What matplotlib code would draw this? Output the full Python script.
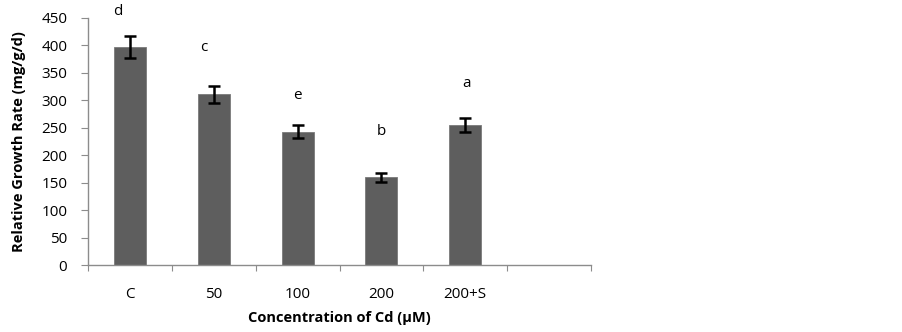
import matplotlib.pyplot as plt
import numpy as np

categories = ["C", "50", "100", "200", "200+S"]
growth_rate = [398, 311, 243, 160, 255]
errors = [20, 16, 12, 8, 13]
letters = ["d", "c", "e", "b", "a"]
letter_y = [461, 397, 308, 244, 330]
letter_shift = [-0.14, -0.12, 0.0, 0.0, 0.01]

plt.rcParams["font.family"] = ["Open Sans", "DejaVu Sans"]

fig = plt.figure(figsize=(9.02, 3.32), dpi=100)
ax = fig.add_axes([0.0976, 0.2018, 0.5576, 0.744])

x = np.arange(len(categories))
ax.bar(x, growth_rate, width=0.38, color="#5e5e5e", edgecolor="#7a7a7a", linewidth=0.6, zorder=2)
ax.errorbar(x, growth_rate, yerr=errors, fmt="none", ecolor="black", elinewidth=1.8,
            capsize=4, capthick=1.8, zorder=3)

for xi, lab, ly, dx in zip(x, letters, letter_y, letter_shift):
    ax.text(xi + dx, ly, lab, ha="center", va="center", fontsize=11, clip_on=False)

ax.set_xlim(-0.5, 5.5)
ax.set_ylim(0, 450)
ax.set_yticks(np.arange(0, 451, 50))
ax.set_xticks(np.arange(-0.5, 6, 1))
ax.set_xticklabels([])
ax.set_xticks(x, minor=True)
ax.set_xticklabels(categories, minor=True)
ax.tick_params(axis="x", which="major", length=4, color="#8c8c8c", direction="out")
ax.tick_params(axis="x", which="minor", length=0, pad=16, labelsize=11)
ax.tick_params(axis="y", length=5, color="#8c8c8c", labelsize=11, pad=10)

for s in ["top", "right"]:
    ax.spines[s].set_visible(False)
for s in ["left", "bottom"]:
    ax.spines[s].set_color("#8c8c8c")
    ax.spines[s].set_linewidth(1.0)

ax.set_ylabel("Relative Growth Rate (mg/g/d)", fontsize=10.5, fontweight="bold", labelpad=11)
ax.set_xlabel("Concentration of Cd (\u03bcM)", fontsize=10.5, fontweight="bold", labelpad=6)

fig.savefig("out.png", dpi=100)
